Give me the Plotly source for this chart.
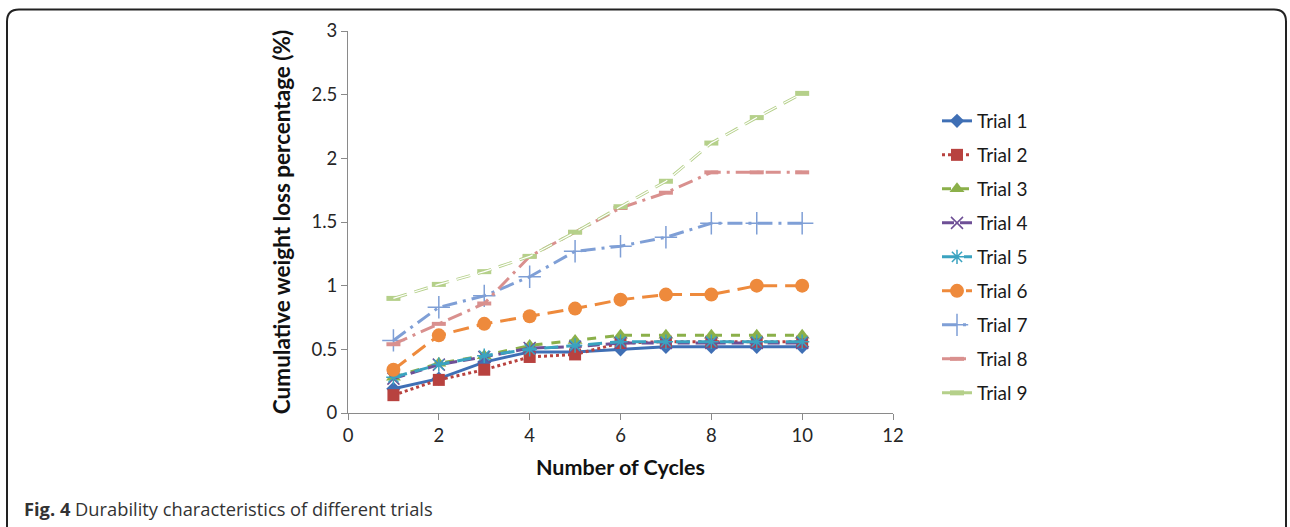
import plotly.graph_objects as go

cycles = [1, 2, 3, 4, 5, 6, 7, 8, 9, 10]
trial_names = ["Trial 1", "Trial 2", "Trial 3", "Trial 4", "Trial 5",
               "Trial 6", "Trial 7", "Trial 8", "Trial 9"]
trial1 = [0.19, 0.27, 0.40, 0.48, 0.48, 0.50, 0.52, 0.52, 0.52, 0.52]
trial2 = [0.14, 0.26, 0.34, 0.44, 0.46, 0.55, 0.56, 0.56, 0.56, 0.56]
trial3 = [0.28, 0.39, 0.45, 0.53, 0.57, 0.61, 0.61, 0.61, 0.61, 0.61]
trial4 = [0.27, 0.38, 0.44, 0.51, 0.52, 0.55, 0.55, 0.55, 0.55, 0.55]
trial5 = [0.28, 0.38, 0.45, 0.50, 0.53, 0.56, 0.56, 0.56, 0.56, 0.56]
trial6 = [0.34, 0.61, 0.70, 0.76, 0.82, 0.89, 0.93, 0.93, 1.00, 1.00]
trial7 = [0.57, 0.83, 0.92, 1.07, 1.27, 1.31, 1.38, 1.49, 1.49, 1.49]
trial8 = [0.54, 0.70, 0.86, 1.23, 1.42, 1.61, 1.73, 1.89, 1.89, 1.89]
trial9 = [0.90, 1.01, 1.11, 1.23, 1.42, 1.62, 1.82, 2.12, 2.32, 2.51]
series = [trial1, trial2, trial3, trial4, trial5, trial6, trial7, trial8, trial9]

x_ticks = [0, 2, 4, 6, 8, 10, 12]
y_ticks = [0, 0.5, 1, 1.5, 2, 2.5, 3]
y_tick_text = ["0", "0.5", "1", "1.5", "2", "2.5", "3"]

styles = [
    dict(color="#3F6FB5", dash="solid", symbol="diamond", size=11, mlw=0),
    dict(color="#B8423F", dash="dot", symbol="square", size=12, mlw=0),
    dict(color="#8BB04A", dash="dash", symbol="triangle-up", size=13, mlw=0),
    dict(color="#6E4F96", dash="12px,6px", symbol="x-thin", size=12, mlw=1.5),
    dict(color="#3AA3C0", dash="14px,8px", symbol="asterisk", size=12, mlw=1.5),
    dict(color="#EE8A3C", dash="16px,8px", symbol="circle", size=14, mlw=0),
    dict(color="#7F9FD6", dash="longdashdot", symbol="cross-thin", size=16, mlw=1.5),
    dict(color="#D9908E", dash="longdashdot", symbol="line-ew", size=10, mlw=4),
    dict(color="#B5D08A", dash="14px,8px", symbol="line-ew", size=10, mlw=5),
]

FONT = "Lato"
fig = go.Figure()
for i, (name, vals, st) in enumerate(zip(trial_names, series, styles)):
    fig.add_trace(go.Scatter(
        x=cycles, y=vals, name=name, mode="lines+markers",
        legendgroup=name,
        line=dict(color=st["color"], width=3, dash=st["dash"]),
        marker=dict(symbol=st["symbol"], size=st["size"], color=st["color"],
                    line=dict(color=st["color"], width=st["mlw"])),
    ))
    if i == 8:
        # hollow inner stroke for Trial 9
        fig.add_trace(go.Scatter(
            x=cycles, y=vals, mode="lines", showlegend=False, hoverinfo="skip",
            line=dict(color="white", width=1.2, dash="14px,8px"),
        ))

# paper coordinate helpers (plot area: x 348..893, y 31..413)
def px(x):
    return (x - 348) / 545.0

def py(y):
    return (413 - y) / 382.0

rx, ry = 12 / 545.0, 12 / 382.0
L, R, T, B = px(7), px(1286), py(9.5), py(560)
border = (f"M {L} {B} L {L} {T - ry} Q {L} {T} {L + rx} {T} "
          f"L {R - rx} {T} Q {R} {T} {R} {T - ry} L {R} {B}")

fig.update_layout(
    width=1290, height=527,
    margin=dict(l=348, r=397, t=31, b=114),
    paper_bgcolor="white", plot_bgcolor="white",
    font=dict(family=FONT, size=18, color="#262626"),
    showlegend=True,
    legend=dict(x=px(937), y=py(102), xanchor="left", yanchor="top",
                font=dict(family=FONT, size=19, color="#1a1a1a"),
                tracegroupgap=6.3, bgcolor="rgba(0,0,0,0)"),
    xaxis=dict(range=[0, 12], tickvals=x_ticks, ticks="outside", ticklen=6,
               tickcolor="#8a8a8a", showline=True, linecolor="#8a8a8a",
               linewidth=1, showgrid=False, zeroline=False,
               tickfont=dict(family=FONT, size=18.5, color="#262626"),
               title=dict(text="<b>Number of Cycles</b>", standoff=14,
                          font=dict(family=FONT, size=21.5, color="#111"))),
    yaxis=dict(range=[0, 3], tickvals=y_ticks, ticktext=y_tick_text,
               ticks="outside", ticklen=6,
               tickcolor="#8a8a8a", showline=True, linecolor="#8a8a8a",
               linewidth=1, showgrid=False, zeroline=False,
               tickfont=dict(family=FONT, size=18.5, color="#262626"),
               title=dict(text="<b>Cumulative weight loss percentage (%)</b>",
                          standoff=14,
                          font=dict(family=FONT, size=22.5, color="#111"))),
    shapes=[dict(type="path", xref="paper", yref="paper", path=border,
                 line=dict(color="#222", width=2))],
    annotations=[dict(
        xref="paper", yref="paper", x=px(22), y=py(508),
        xanchor="left", yanchor="middle", showarrow=False,
        text="<b>Fig. 4</b> Durability characteristics of different trials",
        font=dict(family="Open Sans", size=18.3, color="#333"))],
)

fig.write_html("out.html")
